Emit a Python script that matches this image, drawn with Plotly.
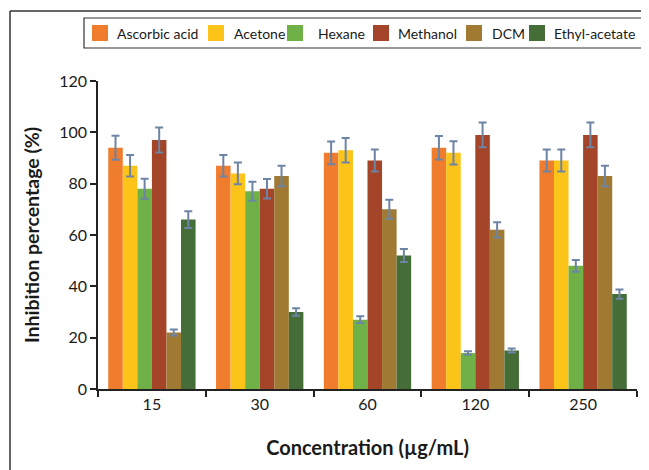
import plotly.graph_objects as go

categories = ["15", "30", "60", "120", "250"]
series_names = ["Ascorbic acid", "Acetone", "Hexane", "Methanol", "DCM", "Ethyl-acetate"]
ascorbic = [94, 87, 92, 94, 89]
acetone = [87, 84, 93, 92, 89]
hexane = [78, 77, 27, 14, 48]
methanol = [97, 78, 89, 99, 99]
dcm = [22, 83, 70, 62, 83]
ethyl = [66, 30, 52, 15, 37]
ascorbic_err = [4.7, 4.2, 4.4, 4.6, 4.3]
acetone_err = [4.2, 4.2, 4.8, 4.5, 4.3]
hexane_err = [3.9, 3.7, 1.3, 0.7, 2.3]
methanol_err = [4.9, 3.8, 4.3, 4.8, 4.8]
dcm_err = [1.2, 4.0, 3.7, 3.0, 4.0]
ethyl_err = [3.3, 1.5, 2.5, 0.8, 1.8]
y_ticks = [0, 20, 40, 60, 80, 100, 120]

values = [ascorbic, acetone, hexane, methanol, dcm, ethyl]
errors = [ascorbic_err, acetone_err, hexane_err, methanol_err, dcm_err, ethyl_err]
colors = ["#F07C2E", "#FCC419", "#6FB047", "#A4452A", "#A07A33", "#446D38"]

FONT = "Lato, Carlito, 'Open Sans', sans-serif"

fig = go.Figure()
for name, vals, errs, col in zip(series_names, values, errors, colors):
    fig.add_trace(go.Bar(
        name=name, x=categories, y=vals, showlegend=False,
        marker=dict(color=col, line=dict(width=0)),
        error_y=dict(type="data", array=errs, visible=True,
                     color="#6E84A4", thickness=2, width=4),
    ))

# the page body adds an 8px offset; target coordinates are window pixels
OFF = 8
WIN_W, WIN_H = 649, 470
# plot area in window px: x 98..637, y 81..389
L, R, T, B = 98, 637, 81, 389
W, H = R - L, B - T
def px(xp):
    return (xp - L) / W
def py(yp):
    return (B - yp) / H

shapes = [
    dict(type="line", xref="paper", yref="paper",
         x0=px(10), x1=px(649), y0=py(11), y1=py(11),
         line=dict(color="#333333", width=1.5)),
    dict(type="line", xref="paper", yref="paper",
         x0=px(10), x1=px(10), y0=py(11), y1=py(470),
         line=dict(color="#333333", width=1.5)),
    # legend box
    dict(type="rect", xref="paper", yref="paper",
         x0=px(84), x1=px(644), y0=py(48), y1=py(18),
         line=dict(color="#333333", width=1.2), fillcolor="white"),
]
annotations = []
swatch_x = [92, 208, 287, 373, 466, 529]
label_x = [115, 232, 316, 396, 490, 552]
for name, col, sx, lx in zip(series_names, colors, swatch_x, label_x):
    shapes.append(dict(type="rect", xref="paper", yref="paper",
                       x0=px(sx), x1=px(sx + 16), y0=py(41), y1=py(25),
                       line=dict(width=0), fillcolor=col))
    annotations.append(dict(xref="paper", yref="paper", x=px(lx), y=py(33.5),
                            xanchor="left", yanchor="middle", showarrow=False,
                            text=name, font=dict(family=FONT, size=14, color="#1a1a1a")))

fig.update_layout(
    width=WIN_W - OFF, height=WIN_H - OFF,
    margin=dict(l=L - OFF, r=WIN_W - R, t=T - OFF, b=WIN_H - B, autoexpand=False),
    paper_bgcolor="white", plot_bgcolor="white",
    barmode="group", bargap=0.19, bargroupgap=0,
    font=dict(family=FONT, size=16, color="#1a1a1a"),
    showlegend=False,
    xaxis=dict(
        type="category", showline=True, linecolor="#222222", linewidth=1.5,
        ticks="outside", tickson="boundaries", ticklen=6, tickcolor="#222222",
        tickwidth=1.5, automargin=False,
        tickfont=dict(family=FONT, size=16, color="#1a1a1a"),
        title=dict(text="<b>Concentration (µg/mL)</b>",
                   font=dict(family=FONT, size=20, color="#1a1a1a"), standoff=29),
    ),
    yaxis=dict(
        range=[0, 120], tickvals=y_ticks, showgrid=False, zeroline=False,
        showline=True, linecolor="#222222", linewidth=1.5, automargin=False,
        ticks="outside", ticklen=6, tickcolor="#222222", tickwidth=1.5,
        tickfont=dict(family=FONT, size=16, color="#1a1a1a"),
        title=dict(text="<b>Inhibition percentage (%)</b>",
                   font=dict(family=FONT, size=19.5, color="#1a1a1a"), standoff=14),
    ),
    shapes=shapes,
    annotations=annotations,
)

fig.write_html("out.html")
